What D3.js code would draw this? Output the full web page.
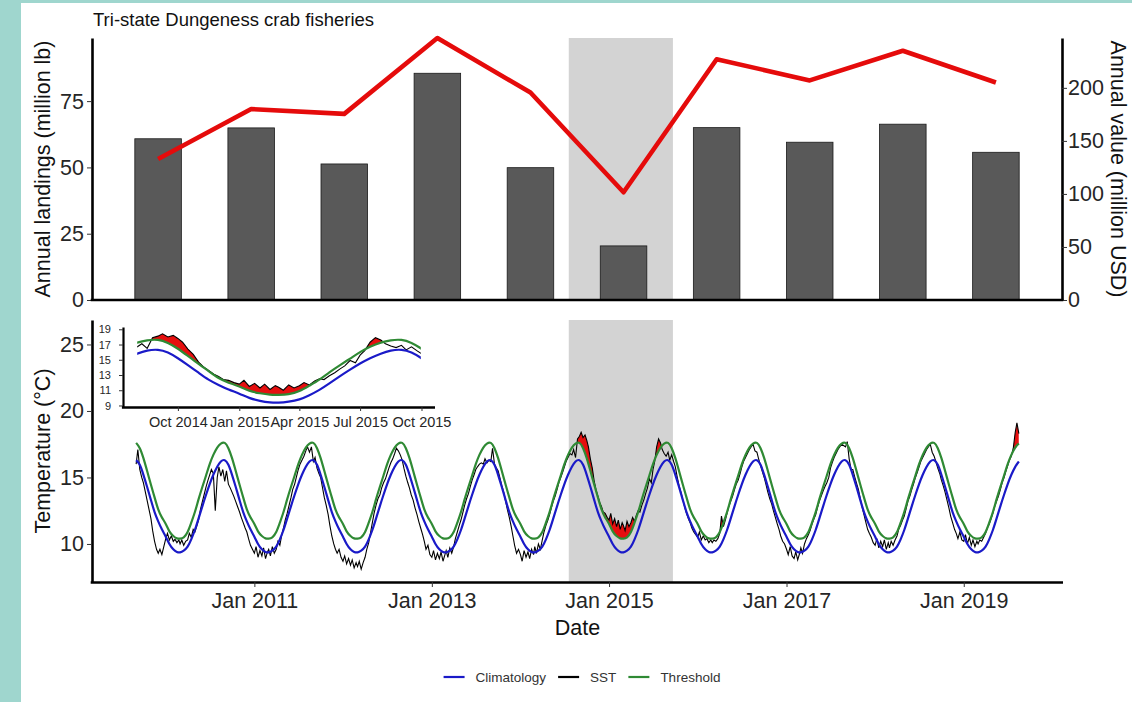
<!DOCTYPE html>
<html>
<head>
<meta charset="utf-8">
<script src="https://cdn.jsdelivr.net/npm/d3@7"></script>
<style>
  html, body { margin: 0; padding: 0; background: #fff; }
  svg { display: block; font-family: "Liberation Sans", Arial, Helvetica, sans-serif; }
</style>
</head>
<body>
<svg id="chart" width="1132" height="702"></svg>
<script>
// ---------- Fishery totals by season ----------
const seasons = ["2009-10", "2010-11", "2011-12", "2012-13", "2013-14",
                 "2014-15", "2015-16", "2016-17", "2017-18", "2018-19"];
const landings = [60.8, 64.9, 51.3, 85.5, 49.9, 20.4, 65.0, 59.5, 66.3, 55.7];   // million lb
const valueUSD = [133, 180, 175.5, 247, 195.6, 101.6, 227, 207, 235, 205];     // million USD
const valuePerLb = 2.5;                       // secondary axis: USD = lb * 2.5
const landingTicks = [0, 25, 50, 75];
const valueTicks = [0, 50, 100, 150, 200];

// ---------- Sea surface temperature ----------
// Seasonal climatology and 90th-percentile threshold, 1st and 16th of each month (Jan..Dec)
const climatology = [10.55, 10.0, 9.6, 9.4, 9.37, 9.5, 9.8, 10.35, 11.05, 11.9, 12.85, 13.7,
                     14.5, 15.2, 15.8, 16.2, 16.3, 15.95, 15.2, 14.3, 13.3, 12.4, 11.7, 11.1];
const threshold   = [11.5, 10.95, 10.6, 10.42, 10.4, 10.5, 10.9, 11.6, 12.4, 13.35, 14.3, 15.15,
                     16.0, 16.7, 17.25, 17.55, 17.6, 17.2, 16.45, 15.5, 14.45, 13.5, 12.6, 12.0];
const seasonalDays = [1, 16];

// Daily SST sampled on days 1, 8, 16 and 24 of each month (°C)
const sstDays = [1, 8, 16, 24];
const sst2009 = [ // Sep–Dec
  16.0, 17.1, 15.6, 15.0,  14.6, 14.0, 13.3, 12.6,  11.9, 11.0, 10.2, 9.6,  9.3, 9.6, 9.2, 9.8];
const sst2010 = [
  10.4, 10.8, 10.3, 10.6,  10.2, 10.35, 10.1, 10.3,  10.0, 10.3, 9.9, 10.2,  10.3, 10.8, 10.5, 11.1,
  10.9, 11.3, 11.8, 12.6,  13.2, 13.7, 14.3, 14.8,  15.2, 15.6, 15.3, 12.5,  15.0, 15.8, 15.1, 15.6,
  14.7, 15.5, 14.5, 14.2,  13.9, 13.6, 13.2, 12.8,  12.4, 12.0, 11.6, 11.2,  10.9, 10.4, 9.9, 9.6];
const sst2011 = [
  9.3, 9.8, 9.0, 9.5,  9.1, 9.7, 8.9, 9.4,  9.6, 9.1, 9.8, 9.3,  9.6, 10.2, 9.9, 10.7,
  11.2, 11.8, 12.3, 12.9,  13.5, 14.1, 14.5, 15.1,  15.6, 16.0, 16.3, 16.6,  17.0, 17.3, 16.9, 17.3,
  16.2, 16.5, 15.7, 15.3,  15.0, 14.3, 13.5, 12.9,  12.2, 11.4, 10.6, 10.0,  9.6, 9.3, 9.6, 9.0];
const sst2012 = [
  8.7, 9.1, 8.5, 8.9,  8.4, 8.8, 8.2, 8.6,  8.3, 8.7, 8.1, 8.6,  9.0, 9.6, 10.1, 10.9,
  11.6, 12.3, 12.9, 13.4,  13.7, 14.2, 14.6, 14.9,  15.3, 15.7, 16.1, 16.4,  16.8, 17.2, 17.0, 16.7,
  16.3, 15.7, 15.1, 14.6,  14.2, 13.7, 13.3, 12.7,  12.2, 11.7, 11.2, 10.7,  10.2, 9.6, 9.9, 9.2];
const sst2013 = [
  9.0, 9.5, 8.8, 9.3,  8.9, 9.4, 8.7, 9.2,  9.5, 9.0, 9.7, 9.3,  9.8, 10.4, 10.9, 11.4,
  11.8, 12.3, 12.9, 13.4,  13.8, 14.3, 14.8, 15.2,  15.6, 15.8, 16.0, 16.1,  16.0, 16.4, 16.1, 16.3,
  16.2, 17.2, 16.0, 15.7,  15.5, 15.0, 14.4, 13.9,  13.2, 12.6, 12.0, 11.3,  10.6, 9.9, 9.3, 9.6];
const sst2014 = [
  9.2, 8.7, 9.5, 9.0,  9.4, 8.9, 9.6, 9.2,  9.8, 9.3, 10.0, 9.6,  10.3, 10.9, 11.4, 11.8,
  12.2, 12.7, 13.2, 13.6,  14.1, 14.6, 15.0, 15.4,  15.8, 16.2, 16.5, 16.8,  16.7, 17.1, 16.5, 17.9,
  18.1, 18.4, 18.0, 18.2,  17.8, 17.3, 16.4, 15.7,  14.7, 14.1, 13.6, 13.1,  12.8, 12.4, 12.3, 12.0];
const sst2015 = [
  11.8, 12.3, 11.5, 11.9,  11.3, 11.8, 11.1, 11.6,  11.4, 11.0, 11.7, 11.3,  11.6, 12.0, 11.7, 12.2,
  12.5, 12.4, 12.9, 13.3,  13.8, 14.2, 14.9, 14.6,  15.6, 16.2, 17.3, 17.9,  17.6, 17.1, 16.8, 16.6,
  16.9, 16.3, 16.7, 16.2,  15.8, 15.1, 14.4, 13.9,  13.3, 12.8, 12.3, 11.9,  11.6, 11.2, 10.9, 10.7];
const sst2016 = [
  10.5, 10.9, 10.3, 10.6,  10.3, 10.4, 10.1, 10.3,  10.1, 10.3, 10.2, 10.4,  10.8, 12.1, 11.3, 11.8,
  12.3, 12.8, 13.2, 13.6,  14.1, 14.5, 14.8, 15.3,  15.8, 16.2, 16.5, 16.8,  17.1, 17.3, 17.5, 17.0,
  16.9, 16.4, 15.9, 15.4,  15.0, 14.5, 13.9, 13.4,  13.0, 12.5, 12.0, 11.5,  11.1, 10.6, 10.2, 10.0];
const sst2017 = [
  9.6, 9.2, 9.8, 9.1,  8.9, 9.4, 8.8, 9.3,  9.7, 9.3, 10.0, 10.4,  10.7, 11.0, 11.5, 11.9,
  12.2, 12.7, 13.2, 13.6,  14.0, 14.3, 14.6, 15.0,  15.7, 16.1, 16.5, 16.8,  17.1, 17.3, 17.5, 17.4,
  17.3, 17.7, 16.4, 15.6,  15.6, 15.1, 14.6, 14.1,  13.4, 12.8, 12.2, 11.6,  11.1, 10.8, 10.5, 10.1];
const sst2018 = [
  9.9, 10.4, 9.7, 10.2,  9.8, 10.3, 9.6, 10.1,  9.7, 10.2, 9.9, 10.3,  10.6, 11.1, 11.4, 11.8,
  12.1, 12.6, 13.2, 13.6,  14.1, 14.5, 15.0, 15.4,  15.8, 16.2, 16.5, 16.8,  17.1, 17.3, 17.5, 16.9,
  16.6, 16.2, 15.7, 15.3,  14.8, 14.4, 13.9, 13.3,  12.7, 12.1, 11.6, 11.1,  10.8, 10.4, 10.9, 10.3];
const sst2019 = [ // Jan–mid Aug
  10.2, 10.7, 10.0, 10.5,  9.9, 10.3, 9.8, 10.2,  10.0, 10.3, 10.2, 10.5,  10.8, 11.2, 11.5, 11.9,
  12.3, 12.8, 13.2, 13.6,  14.1, 14.6, 15.0, 15.5,  15.9, 16.3, 16.6, 17.2,  18.4, 19.1, 18.3];

const sstByYear = [[2009, 8, sst2009], [2010, 0, sst2010], [2011, 0, sst2011], [2012, 0, sst2012],
                   [2013, 0, sst2013], [2014, 0, sst2014], [2015, 0, sst2015], [2016, 0, sst2016],
                   [2017, 0, sst2017], [2018, 0, sst2018], [2019, 0, sst2019]];

const tempTicks = [10, 15, 20, 25];
const tempDomain = [7.14, 26.84];
const dateTicks = ["2011-01-01", "2013-01-01", "2015-01-01", "2017-01-01", "2019-01-01"];
const highlight = ["2014-07-19", "2015-09-21"];        // 2014–15 marine heatwave period

// Inset: the 2014–15 event
const insetRange = ["2014-08-01", "2015-09-30"];
const insetTempTicks = [9, 11, 13, 15, 17, 19];
const insetTempDomain = [8.8, 19.3];
const insetDateTicks = ["2014-10-01", "2015-01-01", "2015-04-01", "2015-07-01", "2015-10-01"];

const legendItems = [
  { label: "Climatology", color: "#1a1ac8" },
  { label: "SST", color: "#000000" },
  { label: "Threshold", color: "#2f8a34" }
];
const flameColor = "#e60f0f";

// ---------- helpers ----------
const parse = d3.timeParse("%Y-%m-%d");
const fmtMonth = d3.timeFormat("%b %Y");

const sstRecords = [];
sstByYear.forEach(([yr, firstMonth, vals]) => {
  vals.forEach((v, i) => {
    sstRecords.push({ date: new Date(yr, firstMonth + Math.floor(i / sstDays.length), sstDays[i % sstDays.length]), value: v });
  });
});
const sstFirst = sstRecords[0].date;
const sstLast = sstRecords[sstRecords.length - 1].date;

// repeat a seasonal cycle across the years spanned by [from, to]
function seasonalSeries(values, from, to) {
  const out = [];
  for (let yr = from.getFullYear(); yr <= to.getFullYear(); yr++) {
    values.forEach((v, i) => {
      const date = new Date(yr, Math.floor(i / 2), seasonalDays[i % 2]);
      if (date >= from && date <= to) out.push({ date, value: v });
    });
  }
  return out;
}
function expandDates(a, b, f) {
  const span = b - a;
  return [new Date(+a - span * f), new Date(+b + span * f)];
}

const svg = d3.select("#chart");
const W = 1132, H = 702;
svg.append("rect").attr("width", W).attr("height", H).attr("fill", "#9fd6ce");
svg.append("rect").attr("x", 21).attr("y", 3).attr("width", W - 21).attr("height", H - 3).attr("fill", "#ffffff");
const defs = svg.append("defs");

function styleAxis(g, fontSize, domainWidth) {
  g.select(".domain").attr("stroke", "#000").attr("stroke-width", domainWidth);
  g.selectAll(".tick line").attr("stroke", "#333").attr("stroke-width", 1);
  g.selectAll(".tick text").attr("fill", "#262626").attr("font-size", fontSize)
    .attr("font-family", '"Liberation Sans", Arial, sans-serif');
}

// ---------- bottom panel scales (shared highlight band) ----------
const B = { left: 92, right: 1063, top: 320, bottom: 582 };
const xTime = d3.scaleTime().domain(expandDates(sstFirst, sstLast, 0.05)).range([B.left, B.right]);
const yTemp = d3.scaleLinear().domain(tempDomain).range([B.bottom, B.top]);

// ---------- top panel ----------
const T = { left: 92, right: 1062, top: 38, bottom: 300 };
const xSeason = d3.scaleBand().domain(seasons).range([T.left, T.right]).paddingInner(0.5).paddingOuter(0.46);
const yValue = d3.scaleLinear().domain([0, d3.max(valueUSD)]).range([T.bottom, T.top]);
const yLand = d3.scaleLinear().domain([0, d3.max(valueUSD) / valuePerLb]).range([T.bottom, T.top]);

const topG = svg.append("g");
topG.append("rect")
  .attr("x", xTime(parse(highlight[0]))).attr("y", T.top)
  .attr("width", xTime(parse(highlight[1])) - xTime(parse(highlight[0])))
  .attr("height", T.bottom - T.top).attr("fill", "#d3d3d3");

topG.selectAll("rect.bar").data(seasons).join("rect").attr("class", "bar")
  .attr("x", s => xSeason(s)).attr("width", xSeason.bandwidth())
  .attr("y", (s, i) => yLand(landings[i]))
  .attr("height", (s, i) => T.bottom - yLand(landings[i]))
  .attr("fill", "#595959").attr("stroke", "#1a1a1a").attr("stroke-width", 0.8);

topG.append("path")
  .attr("d", d3.line().x(s => xSeason(s) + xSeason.bandwidth() / 2).y((s, i) => yValue(valueUSD[i]))(seasons))
  .attr("fill", "none").attr("stroke", "#e50b0b").attr("stroke-width", 4.6)
  .attr("stroke-linejoin", "round").attr("stroke-linecap", "butt");

const axLand = topG.append("g").attr("transform", `translate(${T.left},0)`)
  .call(d3.axisLeft(yLand).tickValues(landingTicks).tickSize(5).tickPadding(3).tickSizeOuter(0));
styleAxis(axLand, 21.5, 2.6);
const axValue = topG.append("g").attr("transform", `translate(${T.right},0)`)
  .call(d3.axisRight(yValue).tickValues(valueTicks).tickSize(5).tickPadding(1).tickSizeOuter(0));
styleAxis(axValue, 21.5, 2.6);
topG.append("line").attr("x1", T.left - 1.3).attr("x2", T.right + 1.3)
  .attr("y1", T.bottom).attr("y2", T.bottom).attr("stroke", "#000").attr("stroke-width", 2.6);

svg.append("text").attr("x", 93).attr("y", 26).attr("font-size", 18.5).attr("fill", "#111")
  .text("Tri-state Dungeness crab fisheries");
svg.append("text").attr("transform", `translate(50,${(T.top + T.bottom) / 2}) rotate(-90)`)
  .attr("text-anchor", "middle").attr("font-size", 21.5).attr("fill", "#111")
  .text("Annual landings (million lb)");
svg.append("text").attr("transform", `translate(1111,${(T.top + T.bottom) / 2}) rotate(90)`)
  .attr("text-anchor", "middle").attr("font-size", 21.5).attr("fill", "#111")
  .text("Annual value (million USD)");

// ---------- bottom panel ----------
const climRecords = seasonalSeries(climatology, sstFirst, sstLast);
const threshRecords = seasonalSeries(threshold, sstFirst, sstLast);
const botG = svg.append("g");

botG.append("rect")
  .attr("x", xTime(parse(highlight[0]))).attr("y", B.top)
  .attr("width", xTime(parse(highlight[1])) - xTime(parse(highlight[0])))
  .attr("height", B.bottom - B.top).attr("fill", "#d3d3d3");

// draws flame + lines for a given pair of scales
function drawTemperature(g, x, y, top, bottom, clipId) {
  defs.append("clipPath").attr("id", clipId).append("path")
    .attr("d", d3.area().x(d => x(d.date)).y0(top).y1(d => y(d.value)).curve(d3.curveNatural)(threshRecords));
  g.append("path")
    .attr("d", d3.area().x(d => x(d.date)).y0(bottom).y1(d => y(d.value))(sstRecords))
    .attr("fill", flameColor).attr("clip-path", `url(#${clipId})`);
  g.append("path")
    .attr("d", d3.line().x(d => x(d.date)).y(d => y(d.value))(sstRecords))
    .attr("fill", "none").attr("stroke", "#000").attr("stroke-width", 1.1);
  g.append("path")
    .attr("d", d3.line().x(d => x(d.date)).y(d => y(d.value)).curve(d3.curveNatural)(climRecords))
    .attr("fill", "none").attr("stroke", legendItems[0].color).attr("stroke-width", 2.2);
  g.append("path")
    .attr("d", d3.line().x(d => x(d.date)).y(d => y(d.value)).curve(d3.curveNatural)(threshRecords))
    .attr("fill", "none").attr("stroke", legendItems[2].color).attr("stroke-width", 2.2);
}
drawTemperature(botG, xTime, yTemp, B.top, B.bottom, "flame-main");

const axTemp = botG.append("g").attr("transform", `translate(${B.left},0)`)
  .call(d3.axisLeft(yTemp).tickValues(tempTicks).tickSize(5).tickPadding(3).tickSizeOuter(0));
styleAxis(axTemp, 21.5, 2.6);
const axDate = botG.append("g").attr("transform", `translate(0,${B.bottom})`)
  .call(d3.axisBottom(xTime).tickValues(dateTicks.map(parse)).tickFormat(fmtMonth)
    .tickSize(5).tickPadding(6).tickSizeOuter(0));
styleAxis(axDate, 21.5, 2.6);
axDate.select(".domain").attr("d", `M${B.left - 1.3},0.5H${B.right}`);

svg.append("text").attr("transform", `translate(50,${(B.top + B.bottom) / 2}) rotate(-90)`)
  .attr("text-anchor", "middle").attr("font-size", 21.5).attr("fill", "#111")
  .text("Temperature (°C)");
svg.append("text").attr("x", (B.left + B.right) / 2).attr("y", 635)
  .attr("text-anchor", "middle").attr("font-size", 21.5).attr("fill", "#111").text("Date");

// ---------- inset ----------
const I = { left: 123, right: 435, top: 327, bottom: 407 };
const insetFrom = parse(insetRange[0]), insetTo = parse(insetRange[1]);
const xIns = d3.scaleTime().domain(expandDates(insetFrom, insetTo, 0.05)).range([I.left, I.right]);
const yIns = d3.scaleLinear().domain(insetTempDomain).range([I.bottom, I.top]);
defs.append("clipPath").attr("id", "inset-window").append("rect")
  .attr("x", xIns(insetFrom)).attr("y", I.top - 10)
  .attr("width", xIns(insetTo) - xIns(insetFrom)).attr("height", I.bottom - I.top + 10);
const insG = svg.append("g").attr("clip-path", "url(#inset-window)");
drawTemperature(insG, xIns, yIns, I.top - 10, I.bottom, "flame-inset");

const axInsY = svg.append("g").attr("transform", `translate(${I.left},0)`)
  .call(d3.axisLeft(yIns).tickValues(insetTempTicks).tickSize(4).tickPadding(8).tickSizeOuter(0));
styleAxis(axInsY, 11, 2.2);
const axInsX = svg.append("g").attr("transform", `translate(0,${I.bottom})`)
  .call(d3.axisBottom(xIns).tickValues(insetDateTicks.map(parse)).tickFormat(fmtMonth)
    .tickSize(4).tickPadding(6).tickSizeOuter(0));
styleAxis(axInsX, 14.5, 2.4);
axInsX.select(".domain").attr("d", `M${I.left - 1.1},0.5H${I.right}`);

// ---------- legend ----------
const legend = svg.append("g").attr("font-size", 13.5).attr("fill", "#333");
let lx = 0;
const items = legend.selectAll("g").data(legendItems).join("g");
items.append("line").attr("x1", 0).attr("x2", 21).attr("y1", 0).attr("y2", 0)
  .attr("stroke", d => d.color).attr("stroke-width", 2.2);
items.append("text").attr("x", 32).attr("y", 4.8).text(d => d.label);
items.each(function () {
  const w = this.querySelector("text").getComputedTextLength();
  d3.select(this).attr("data-w", 32 + w);
});
items.attr("transform", function () {
  const t = `translate(${lx},0)`;
  lx += +this.getAttribute("data-w") + 12;
  return t;
});
const legendWidth = lx - 12;
legend.attr("transform", `translate(${582 - legendWidth / 2},677)`);
</script>
</body>
</html>
